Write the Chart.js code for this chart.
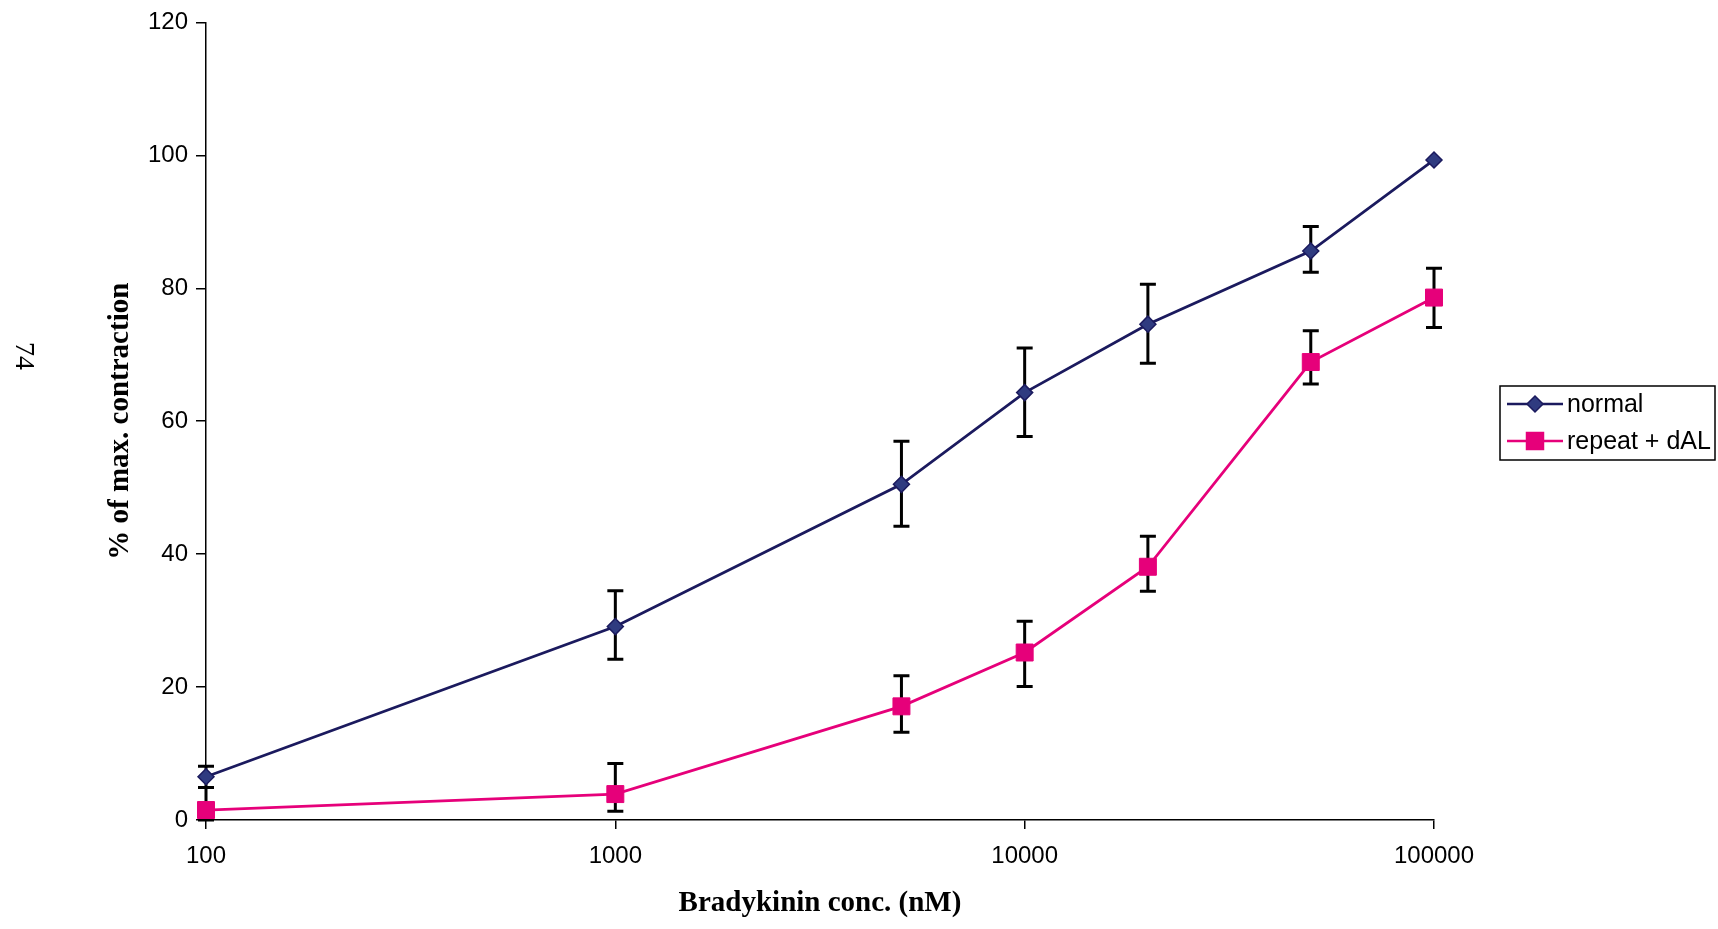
<!DOCTYPE html>
<html>
<head>
<meta charset="utf-8">
<script src="https://cdn.jsdelivr.net/npm/chart.js@4.4.0/dist/chart.umd.min.js"></script>
<style>
  html, body { margin: 0; padding: 0; background: #fff; }
  #wrap { width: 1718px; height: 929px; }
</style>
</head>
<body>
<div id="wrap"><canvas id="myChart" width="1718" height="929"></canvas></div>
<script>
// concentrations (nM)
const concs = [100, 1000, 5000, 10000, 20000, 50000, 100000];
const xTicks = [100, 1000, 10000, 100000];
const yTicks = [0, 20, 40, 60, 80, 100, 120];

// % of max contraction
const normalVals = [6.5, 29.1, 50.5, 64.3, 74.6, 85.6, 99.3];
const normalErrUp = [1.6, 5.4, 6.5, 6.7, 6.0, 3.7, 0];
const normalErrDown = [1.6, 4.9, 6.3, 6.6, 5.9, 3.2, 0];

const repeatVals = [1.5, 3.9, 17.1, 25.2, 38.1, 68.9, 78.6];
const repeatErrUp = [3.4, 4.6, 4.6, 4.7, 4.6, 4.7, 4.4];
const repeatErrDown = [1.5, 2.6, 3.9, 5.1, 3.7, 3.3, 4.5];

const errors = [
  { up: normalErrUp, down: normalErrDown, vals: normalVals },
  { up: repeatErrUp, down: repeatErrDown, vals: repeatVals }
];

// error bars drawn under the markers
const errorBars = {
  id: 'errorBars',
  beforeDatasetsDraw(chart) {
    const ctx = chart.ctx;
    const xs = chart.scales.x, ys = chart.scales.y;
    ctx.save();
    ctx.strokeStyle = '#000';
    ctx.lineWidth = 3;
    errors.forEach(e => {
      concs.forEach((c, i) => {
        if (!e.up[i] && !e.down[i]) return;
        const px = xs.getPixelForValue(c);
        const top = ys.getPixelForValue(e.vals[i] + e.up[i]);
        const bot = ys.getPixelForValue(Math.max(0, e.vals[i] - e.down[i]));
        ctx.beginPath();
        ctx.moveTo(px, top); ctx.lineTo(px, bot);
        ctx.moveTo(px - 8, top); ctx.lineTo(px + 8, top);
        ctx.moveTo(px - 8, bot); ctx.lineTo(px + 8, bot);
        ctx.stroke();
      });
    });
    ctx.restore();
  }
};

// boxed legend and the page number
const extras = {
  id: 'extras',
  afterDraw(chart) {
    const ctx = chart.ctx;
    ctx.save();
    ctx.strokeStyle = '#000';
    ctx.lineWidth = 1.5;
    ctx.strokeRect(1500, 386, 215, 74);
    const rows = [{ y: 404, ds: chart.data.datasets[0] }, { y: 441, ds: chart.data.datasets[1] }];
    rows.forEach(r => {
      ctx.strokeStyle = r.ds.borderColor;
      ctx.lineWidth = 2.5;
      ctx.beginPath();
      ctx.moveTo(1507, r.y); ctx.lineTo(1563, r.y);
      ctx.stroke();
      ctx.fillStyle = r.ds.pointBackgroundColor;
      ctx.strokeStyle = r.ds.pointBorderColor;
      ctx.lineWidth = 1.5;
      ctx.beginPath();
      if (r.ds.pointStyle === 'rectRot') {
        const s = r.ds.pointRadius;
        ctx.moveTo(1535, r.y - s); ctx.lineTo(1535 + s, r.y);
        ctx.lineTo(1535, r.y + s); ctx.lineTo(1535 - s, r.y);
        ctx.closePath();
      } else {
        const s = r.ds.pointRadius * Math.SQRT1_2;
        ctx.rect(1535 - s, r.y - s, 2 * s, 2 * s);
      }
      ctx.fill(); ctx.stroke();
      ctx.fillStyle = '#000';
      ctx.font = '25px "Liberation Sans", Arial, sans-serif';
      ctx.textBaseline = 'middle';
      ctx.textAlign = 'left';
      ctx.fillText(r.ds.label, 1567, r.y + 1);
    });
    // page number, turned sideways
    ctx.translate(23, 356);
    ctx.rotate(Math.PI / 2);
    ctx.font = '28px "Liberation Serif", "Times New Roman", serif';
    ctx.textAlign = 'center';
    ctx.textBaseline = 'middle';
    ctx.fillStyle = '#000';
    ctx.fillText('74', 0, 0);
    ctx.restore();
  }
};

const tickFont = { family: '"Liberation Sans", Arial, sans-serif', size: 24 };
const titleFont = { family: '"Liberation Serif", "Times New Roman", serif', size: 29, weight: 'bold' };

new Chart(document.getElementById('myChart').getContext('2d'), {
  type: 'line',
  data: {
    datasets: [{
      label: 'normal',
      data: concs.map((c, i) => ({ x: c, y: normalVals[i] })),
      borderColor: '#1b1a5e',
      borderWidth: 2.8,
      pointStyle: 'rectRot',
      pointRadius: 8,
      pointBackgroundColor: '#2f3b80',
      pointBorderColor: '#1b1a5e',
      pointBorderWidth: 1.5,
      tension: 0,
      clip: false
    }, {
      label: 'repeat + dAL',
      data: concs.map((c, i) => ({ x: c, y: repeatVals[i] })),
      borderColor: '#e6007a',
      borderWidth: 2.8,
      pointStyle: 'rect',
      pointRadius: 12,
      pointBackgroundColor: '#e6007a',
      pointBorderColor: '#e6007a',
      pointBorderWidth: 1,
      tension: 0,
      clip: false
    }]
  },
  options: {
    responsive: false,
    animation: false,
    layout: { padding: { left: 0, right: 284, top: 20, bottom: 0 } },
    plugins: {
      legend: { display: false },
      tooltip: { enabled: false }
    },
    scales: {
      x: {
        type: 'logarithmic',
        min: 100,
        max: 100000,
        afterBuildTicks: function (scale) {
          scale.ticks = xTicks.map(v => ({ value: v }));
        },
        afterFit: function (scale) { scale.height = 109; },
        ticks: {
          color: '#000',
          font: tickFont,
          padding: 13,
          maxRotation: 0,
          callback: function (value) { return String(value); }
        },
        grid: { drawOnChartArea: false, drawTicks: true, tickLength: 9, color: '#000', lineWidth: 1.5 },
        border: { color: '#000', width: 1.5 },
        title: { display: true, text: 'Bradykinin conc. (nM)', color: '#000', font: titleFont, padding: { top: 0, bottom: 8 } }
      },
      y: {
        min: 0,
        max: 120,
        afterBuildTicks: function (scale) {
          scale.ticks = yTicks.map(v => ({ value: v }));
        },
        afterFit: function (scale) { scale.width = 206; },
        ticks: { color: '#000', font: tickFont, padding: 8 },
        grid: { drawOnChartArea: false, drawTicks: true, tickLength: 10, color: '#000', lineWidth: 1.5 },
        border: { color: '#000', width: 1.5 },
        title: { display: true, text: '% of max. contraction', color: '#000', font: titleFont, padding: { top: 103, bottom: 0 } }
      }
    }
  },
  plugins: [errorBars, extras]
});
</script>
</body>
</html>
